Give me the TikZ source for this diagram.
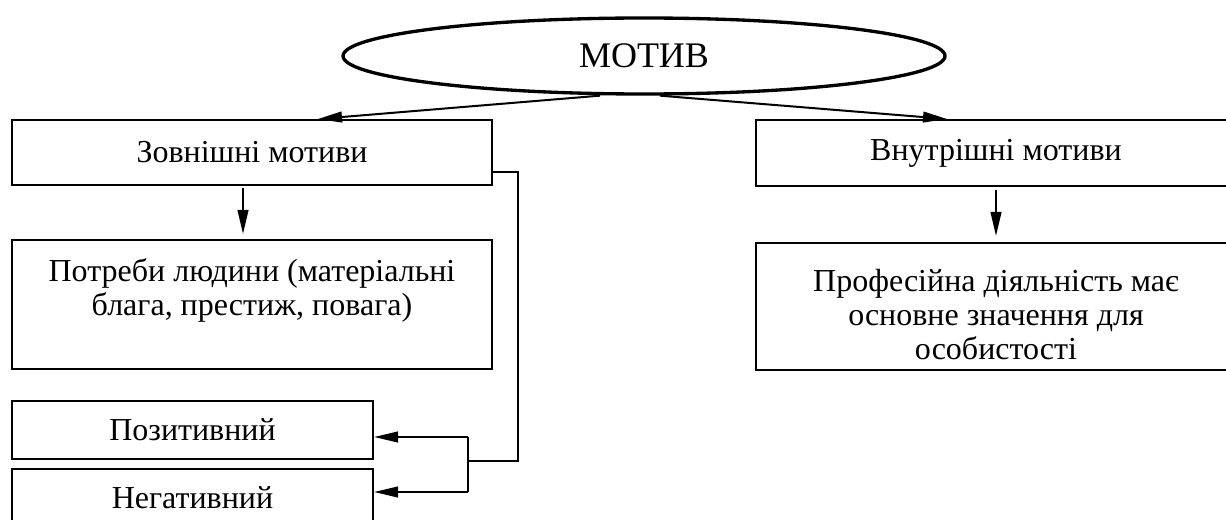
\documentclass[tikz,border=0pt]{standalone}
\usepackage{fontspec}
\setmainfont{Liberation Serif}
\usetikzlibrary{
  arrows.meta,
  positioning,
  shapes.geometric,
  calc
}

\begin{document}
\begin{tikzpicture}[
      x=0.75pt, y=-0.75pt,
      >={Triangle[length=18pt,width=8pt]},
      font=\fontsize{24}{25.5}\selectfont,
      motbox/.style={
        rectangle, draw, line width=1.5pt,
        minimum width=#1, align=center, inner sep=0pt
      },
      motbox/.default=360pt,
      motoval/.style={
        ellipse, draw, line width=2.5pt,
        minimum width=451.5pt, minimum height=57pt, inner sep=0pt
      },
      motarr/.style={->, line width=1.5pt},
      motline/.style={line width=1.5pt}
    ]
    \useasboundingbox (0,0) rectangle (1226,520);

    % Level 1: Entry
    \node[motoval, font=\fontsize{27}{30}\selectfont] (motiv) at (644,56) {МОТИВ};

    % Level 2: Two kinds of motives
    \node[motbox, minimum height=48.75pt] (ext)  at (252,152.5) {Зовнішні мотиви};
    \node[motbox, minimum height=49.5pt]  (intr) at (996,153)   {Внутрішні мотиви};

    % Level 3: What they mean
    \node[motbox, minimum height=96.75pt] (needs) at (252,304.5)
      {Потреби людини (матеріальні\\блага, престиж, повага)\\\mbox{}};
    \node[motbox, minimum height=95.25pt] (prof) at (996,306.5)
      {\rule{0pt}{28pt}Професійна діяльність має\\основне значення для\\особистості};

    % Level 4: Sign of the outer motive
    \node[motbox=270.75pt, minimum height=43.5pt] (pos) at (192.5,430) {Позитивний};
    \node[motbox=270.75pt, minimum height=43.5pt] (neg) at (192.5,498) {Негативний};

    % Arrows
    \draw[motarr] ([xshift=-33pt]motiv.south) -- ([xshift=49.5pt]ext.north);
    \draw[motarr] ([xshift=12pt]motiv.south) -- ([xshift=-36.75pt]intr.north);
    \draw[motarr, shorten <=1.5pt, shorten >=3.75pt]
      ([xshift=-6.75pt]ext.south) -- ([xshift=-6.75pt]needs.north);
    \draw[motarr, shorten <=2.25pt, shorten >=4.5pt] (intr) -- (prof);

    % Side route to the two signs
    \coordinate (fork) at (468,461);
    \coordinate (pin)  at (468,437);
    \coordinate (nin)  at (468,492);
    \draw[motline] ([yshift=-14.6pt]ext.east) -- ++(25,0) |- (fork);
    \draw[motline] (pin) -- (nin);
    \draw[motarr] (pin) -- (pin -| pos.east);
    \draw[motarr] (nin) -- (nin -| neg.east);
  \end{tikzpicture}
\end{document}
